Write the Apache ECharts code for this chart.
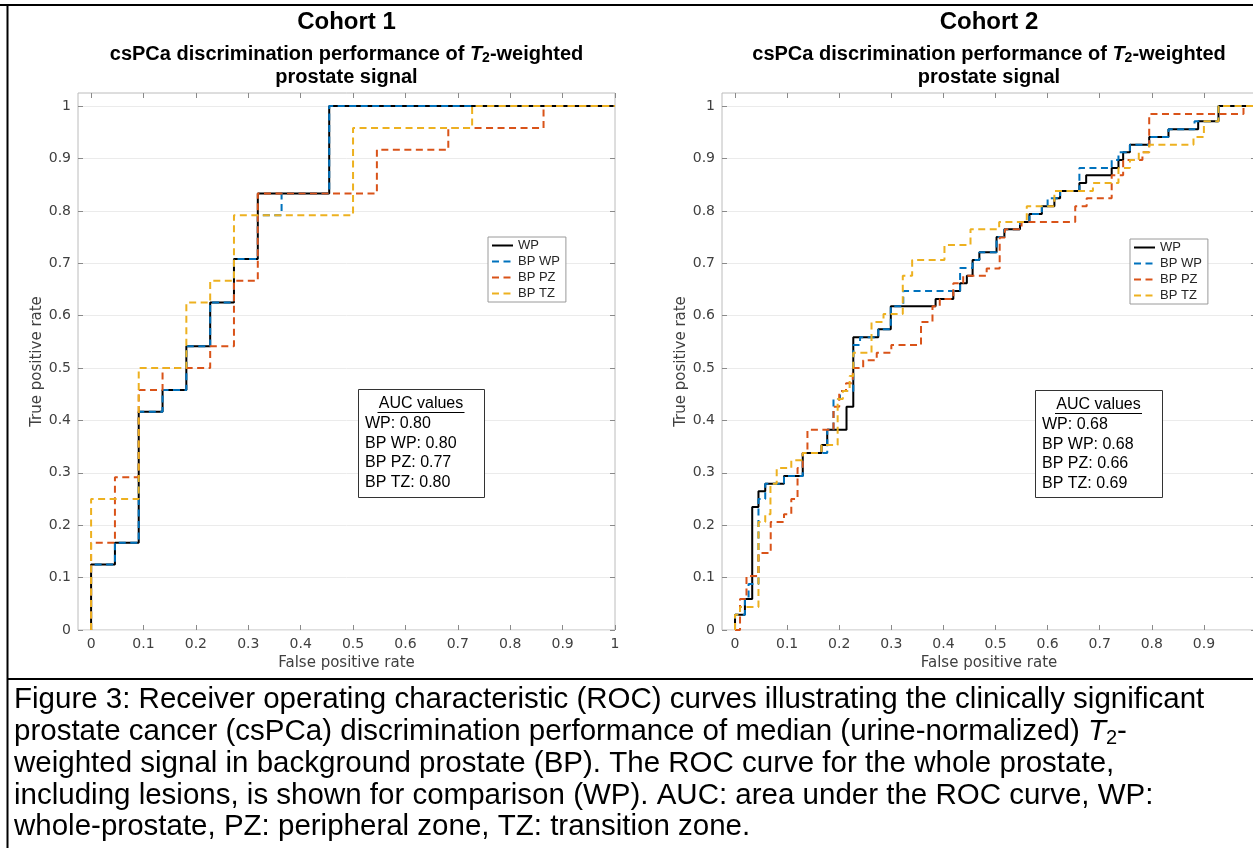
<!DOCTYPE html>
<html><head><meta charset="utf-8">
<script src="https://cdn.jsdelivr.net/npm/echarts@6/dist/echarts.min.js"></script>
<style>html,body{margin:0;padding:0;background:#fff}#c{width:1253px;height:848px}</style>
</head><body><div id="c"></div><script>
// ---------- data ----------
const seriesNames = ['WP', 'BP WP', 'BP PZ', 'BP TZ'];
const seriesColors = ['#000000', '#0072BD', '#D95319', '#EDB120'];
const xTicks = [0, 0.1, 0.2, 0.3, 0.4, 0.5, 0.6, 0.7, 0.8, 0.9, 1];
const xTicks2Labels = [0, 0.1, 0.2, 0.3, 0.4, 0.5, 0.6, 0.7, 0.8, 0.9];
const yTicks = [0, 0.1, 0.2, 0.3, 0.4, 0.5, 0.6, 0.7, 0.8, 0.9, 1];
const cohortTitles = ['Cohort 1', 'Cohort 2'];
const xAxisTitle = 'False positive rate';
const yAxisTitle = 'True positive rate';
const c1Auc = [0.80, 0.80, 0.77, 0.80];
const c2Auc = [0.68, 0.68, 0.66, 0.69];

// Cohort 1 ROC vertices [FPR, TPR]
const c1WP = [[0,0],[0,0.125],[0.0455,0.125],[0.0455,0.1667],[0.0909,0.1667],[0.0909,0.4167],[0.1364,0.4167],[0.1364,0.4583],[0.1818,0.4583],[0.1818,0.5417],[0.2273,0.5417],[0.2273,0.625],[0.2727,0.625],[0.2727,0.7083],[0.3182,0.7083],[0.3182,0.8333],[0.4545,0.8333],[0.4545,1],[1,1]];
const c1BPWP = [[0,0],[0,0.125],[0.0455,0.125],[0.0455,0.1667],[0.0909,0.1667],[0.0909,0.4167],[0.1364,0.4167],[0.1364,0.4583],[0.1818,0.4583],[0.1818,0.5417],[0.2273,0.5417],[0.2273,0.625],[0.2727,0.625],[0.2727,0.7083],[0.3182,0.7083],[0.3182,0.7917],[0.3636,0.7917],[0.3636,0.8333],[0.4545,0.8333],[0.4545,1],[1,1]];
const c1PZ = [[0,0],[0,0.1667],[0.0455,0.1667],[0.0455,0.2917],[0.0909,0.2917],[0.0909,0.4583],[0.1364,0.4583],[0.1364,0.5],[0.2273,0.5],[0.2273,0.5417],[0.2727,0.5417],[0.2727,0.6667],[0.3182,0.6667],[0.3182,0.8333],[0.5455,0.8333],[0.5455,0.9167],[0.6818,0.9167],[0.6818,0.9583],[0.8636,0.9583],[0.8636,1],[1,1]];
const c1TZ = [[0,0],[0,0.25],[0.0909,0.25],[0.0909,0.5],[0.1818,0.5],[0.1818,0.625],[0.2273,0.625],[0.2273,0.6667],[0.2727,0.6667],[0.2727,0.7917],[0.5,0.7917],[0.5,0.9583],[0.7273,0.9583],[0.7273,1],[1,1]];

// Cohort 2 ROC vertices [FPR, TPR]
const c2WP = [[0,0],[0,0.029],[0.019,0.029],[0.019,0.059],[0.033,0.059],[0.033,0.235],[0.045,0.235],[0.045,0.265],[0.058,0.265],[0.058,0.279],[0.094,0.279],[0.094,0.294],[0.130,0.294],[0.130,0.338],[0.166,0.338],[0.166,0.353],[0.177,0.353],[0.177,0.382],[0.214,0.382],[0.214,0.426],[0.227,0.426],[0.227,0.559],[0.275,0.559],[0.275,0.574],[0.299,0.574],[0.299,0.618],[0.385,0.618],[0.385,0.632],[0.419,0.632],[0.419,0.647],[0.432,0.647],[0.432,0.662],[0.445,0.662],[0.445,0.676],[0.456,0.676],[0.456,0.706],[0.469,0.706],[0.469,0.721],[0.502,0.721],[0.502,0.75],[0.517,0.75],[0.517,0.765],[0.547,0.765],[0.547,0.779],[0.565,0.779],[0.565,0.794],[0.589,0.794],[0.589,0.809],[0.613,0.809],[0.613,0.824],[0.624,0.824],[0.624,0.838],[0.661,0.838],[0.661,0.853],[0.674,0.853],[0.674,0.868],[0.723,0.868],[0.723,0.882],[0.736,0.882],[0.736,0.897],[0.745,0.897],[0.745,0.912],[0.758,0.912],[0.758,0.926],[0.795,0.926],[0.795,0.941],[0.832,0.941],[0.832,0.956],[0.889,0.956],[0.889,0.971],[0.928,0.971],[0.928,1],[1,1]];
const c2BPWP = [[0,0],[0,0.029],[0.019,0.029],[0.019,0.059],[0.026,0.059],[0.026,0.088],[0.045,0.088],[0.045,0.25],[0.058,0.25],[0.058,0.279],[0.094,0.279],[0.094,0.294],[0.130,0.294],[0.130,0.338],[0.177,0.338],[0.177,0.382],[0.189,0.382],[0.189,0.441],[0.2015,0.441],[0.2015,0.456],[0.227,0.456],[0.227,0.544],[0.24,0.544],[0.24,0.559],[0.275,0.559],[0.275,0.574],[0.299,0.574],[0.299,0.618],[0.323,0.618],[0.323,0.647],[0.432,0.647],[0.432,0.691],[0.456,0.691],[0.456,0.706],[0.469,0.706],[0.469,0.721],[0.502,0.721],[0.502,0.75],[0.517,0.75],[0.517,0.765],[0.547,0.765],[0.547,0.779],[0.565,0.779],[0.565,0.794],[0.589,0.794],[0.589,0.809],[0.6,0.809],[0.6,0.824],[0.624,0.824],[0.624,0.838],[0.661,0.838],[0.661,0.882],[0.723,0.882],[0.723,0.897],[0.736,0.897],[0.736,0.912],[0.758,0.912],[0.758,0.926],[0.795,0.926],[0.795,0.941],[0.832,0.941],[0.832,0.956],[0.882,0.956],[0.882,0.971],[0.928,0.971],[0.928,1],[1,1]];
const c2PZ = [[0,0],[0.0096,0],[0.0096,0.059],[0.022,0.059],[0.022,0.103],[0.045,0.103],[0.045,0.147],[0.0685,0.147],[0.0685,0.206],[0.094,0.206],[0.094,0.221],[0.108,0.221],[0.108,0.25],[0.12,0.25],[0.12,0.309],[0.13,0.309],[0.13,0.338],[0.139,0.338],[0.139,0.382],[0.189,0.382],[0.189,0.426],[0.2,0.426],[0.2,0.456],[0.213,0.456],[0.213,0.471],[0.226,0.471],[0.226,0.5],[0.246,0.5],[0.246,0.515],[0.272,0.515],[0.272,0.529],[0.3,0.529],[0.3,0.544],[0.357,0.544],[0.357,0.588],[0.379,0.588],[0.379,0.618],[0.393,0.618],[0.393,0.632],[0.419,0.632],[0.419,0.662],[0.438,0.662],[0.438,0.676],[0.483,0.676],[0.483,0.69],[0.508,0.69],[0.508,0.749],[0.518,0.749],[0.518,0.765],[0.55,0.765],[0.55,0.779],[0.653,0.779],[0.653,0.809],[0.675,0.809],[0.675,0.824],[0.723,0.824],[0.723,0.868],[0.745,0.868],[0.745,0.897],[0.782,0.897],[0.782,0.912],[0.795,0.912],[0.795,0.985],[0.976,0.985],[0.976,1],[1,1]];
const c2TZ = [[0,0],[0,0.029],[0.0096,0.029],[0.0096,0.044],[0.045,0.044],[0.045,0.206],[0.058,0.206],[0.058,0.221],[0.068,0.221],[0.068,0.279],[0.08,0.279],[0.08,0.309],[0.108,0.309],[0.108,0.324],[0.13,0.324],[0.13,0.338],[0.166,0.338],[0.166,0.353],[0.197,0.353],[0.197,0.441],[0.207,0.441],[0.207,0.456],[0.22,0.456],[0.22,0.485],[0.227,0.485],[0.227,0.529],[0.262,0.529],[0.262,0.588],[0.285,0.588],[0.285,0.603],[0.322,0.603],[0.322,0.676],[0.34,0.676],[0.34,0.706],[0.402,0.706],[0.402,0.735],[0.452,0.735],[0.452,0.765],[0.507,0.765],[0.507,0.779],[0.56,0.779],[0.56,0.809],[0.613,0.809],[0.613,0.838],[0.687,0.838],[0.687,0.853],[0.736,0.853],[0.736,0.882],[0.758,0.882],[0.758,0.897],[0.775,0.897],[0.775,0.912],[0.795,0.912],[0.795,0.926],[0.88,0.926],[0.88,0.941],[0.9,0.941],[0.9,0.971],[0.928,0.971],[0.928,1],[1,1]];

const captionLines = [
  'Figure 3: Receiver operating characteristic (ROC) curves illustrating the clinically significant',
  'prostate cancer (csPCa) discrimination performance of median (urine-normalized) {it|T}{sub|2}-',
  'weighted signal in background prostate (BP). The ROC curve for the whole prostate,',
  'including lesions, is shown for comparison (WP). AUC: area under the ROC curve, WP:',
  'whole-prostate, PZ: peripheral zone, TZ: transition zone.'
];

// ---------- chart ----------
const chart = echarts.init(document.getElementById('c'), null, {renderer: 'canvas'});
const TICK_FONT = 'DejaVu Sans';
const ARIAL = 'Liberation Sans';
const grids = [
  {left: 78, right: 638, top: 93, bottom: 218},
  {left: 722, right: -3, top: 93, bottom: 218}
];
const fmt = v => String(Math.round(v * 10) / 10);
const tickStyle = {show: true, inside: true, length: 5, lineStyle: {color: '#8a8a8a', width: 1}};

const xAxes = [], yAxes = [];
grids.forEach((g, i) => {
  const labels = i === 0 ? xTicks : xTicks2Labels;
  xAxes.push({
    type: 'value', gridIndex: i, position: 'bottom', min: -0.025, max: 1,
    name: xAxisTitle, nameLocation: 'middle', nameGap: 26,
    nameTextStyle: {color: '#404040', fontFamily: TICK_FONT, fontSize: 15},
    axisLine: {show: false, onZero: false},
    axisTick: Object.assign({customValues: xTicks}, tickStyle),
    axisLabel: {customValues: labels, formatter: fmt, color: '#404040', fontFamily: TICK_FONT, fontSize: 14, margin: 7},
    splitLine: {show: false}
  });
  xAxes.push({
    type: 'value', gridIndex: i, position: 'top', min: -0.025, max: 1,
    axisLine: {show: false, onZero: false},
    axisTick: Object.assign({customValues: xTicks}, tickStyle),
    axisLabel: {show: false},
    splitLine: {show: false}
  });
  yAxes.push({
    type: 'value', gridIndex: i, position: 'left', min: 0, max: 1.025,
    name: yAxisTitle, nameLocation: 'middle', nameGap: 32, nameRotate: 90,
    nameTextStyle: {color: '#404040', fontFamily: TICK_FONT, fontSize: 15},
    axisLine: {show: false, onZero: false},
    axisTick: Object.assign({customValues: yTicks}, tickStyle),
    axisLabel: {customValues: yTicks, formatter: fmt, color: '#404040', fontFamily: TICK_FONT, fontSize: 14, margin: 7},
    splitLine: {show: true, lineStyle: {color: '#ebebeb', width: 1}}
  });
  yAxes.push({
    type: 'value', gridIndex: i, position: 'right', min: 0, max: 1.025,
    axisLine: {show: false, onZero: false},
    axisTick: Object.assign({customValues: yTicks}, tickStyle),
    axisLabel: {show: false},
    splitLine: {show: false}
  });
});

const cohortData = [[c1WP, c1BPWP, c1PZ, c1TZ], [c2WP, c2BPWP, c2PZ, c2TZ]];
const series = [];
cohortData.forEach((sets, ci) => {
  sets.forEach((d, si) => {
    series.push({
      type: 'line', name: seriesNames[si], data: d,
      xAxisIndex: ci * 2, yAxisIndex: ci * 2,
      symbol: 'none', animation: false, silent: true,
      lineStyle: {color: seriesColors[si], width: 2, type: si === 0 ? 'solid' : [7, 4.5]},
      itemStyle: {color: seriesColors[si]},
      z: 3 + si
    });
  });
});

const legendCommon = {
  orient: 'vertical', data: seriesNames, itemGap: 3, itemWidth: 21, itemHeight: 14,
  padding: [2, 6, 2, 3], borderColor: '#9a9a9a', borderWidth: 1, backgroundColor: '#ffffff',
  itemStyle: {opacity: 0},
  textStyle: {fontFamily: ARIAL, fontSize: 13, color: '#262626'}, selectedMode: false
};

// graphics
const graphic = [];
graphic.push({type: 'line', shape: {x1: 7.5, y1: 4, x2: 7.5, y2: 848}, style: {stroke: '#000', lineWidth: 2}, z: 100});
graphic.push({type: 'line', shape: {x1: 0, y1: 5, x2: 1253, y2: 5}, style: {stroke: '#000', lineWidth: 2}, z: 100});
graphic.push({type: 'line', shape: {x1: 7, y1: 679, x2: 1253, y2: 679}, style: {stroke: '#000', lineWidth: 2}, z: 100});

const titleCenters = [346.5, 989];
const subRich = {
  it: {font: 'italic bold 20px "Liberation Sans"', fill: '#000'},
  sub: {font: 'bold 14px "Liberation Sans"', fill: '#000', padding: [9, 0, 0, 0], verticalAlign: 'bottom'}
};
titleCenters.forEach((cx, i) => {
  graphic.push({type: 'text', x: cx, y: 22, z: 100, style: {text: cohortTitles[i], font: 'bold 24px "Liberation Sans"', fill: '#000', align: 'center', verticalAlign: 'middle'}});
  graphic.push({type: 'text', x: cx, y: 54, z: 100, style: {text: 'csPCa discrimination performance of {it|T}{sub|2}-weighted', font: 'bold 20px "Liberation Sans"', fill: '#000', align: 'center', verticalAlign: 'middle', rich: subRich}});
  graphic.push({type: 'text', x: cx, y: 77, z: 100, style: {text: 'prostate signal', font: 'bold 20px "Liberation Sans"', fill: '#000', align: 'center', verticalAlign: 'middle'}});
});

// AUC boxes
const aucBoxes = [{x: 358, y: 389, w: 126, h: 108, auc: c1Auc}, {x: 1035, y: 390, w: 127, h: 107, auc: c2Auc}];
aucBoxes.forEach(b => {
  graphic.push({type: 'rect', z: 100, shape: {x: b.x + 0.5, y: b.y + 0.5, width: b.w, height: b.h}, style: {fill: '#fff', stroke: '#333', lineWidth: 1}});
  const cx = b.x + b.w / 2;
  graphic.push({type: 'text', z: 101, x: cx, y: b.y + 15, style: {text: 'AUC values', font: '16px "Liberation Sans"', fill: '#000', align: 'center', verticalAlign: 'middle'}});
  graphic.push({type: 'line', z: 101, shape: {x1: cx - 43.5, y1: b.y + 23.5, x2: cx + 43.5, y2: b.y + 23.5}, style: {stroke: '#000', lineWidth: 1}});
  b.auc.forEach((v, k) => {
    graphic.push({type: 'text', z: 101, x: b.x + 7, y: b.y + 34.5 + k * 19.7, style: {text: seriesNames[k] + ': ' + v.toFixed(2), font: '16px "Liberation Sans"', fill: '#000', align: 'left', verticalAlign: 'middle'}});
  });
});

// caption
const capRich = {
  it: {font: 'italic 29.5px "Liberation Sans"', fill: '#000'},
  sub: {font: '20px "Liberation Sans"', fill: '#000', padding: [14, 0, 0, 0], verticalAlign: 'bottom'}
};
captionLines.forEach((t, i) => {
  graphic.push({type: 'text', z: 100, x: 14, y: 700 + i * 31.8, style: {text: t, font: '29.5px "Liberation Sans"', fill: '#000', align: 'left', verticalAlign: 'middle', rich: capRich}});
});

chart.setOption({
  backgroundColor: '#ffffff',
  animation: false,
  grid: grids.map(g => Object.assign({show: true, borderColor: '#bcbcbc', borderWidth: 1, backgroundColor: '#fff', outerBoundsMode: 'none', containLabel: false}, g)),
  xAxis: xAxes,
  yAxis: yAxes,
  legend: [
    Object.assign({left: 488, top: 237}, legendCommon),
    Object.assign({left: 1130, top: 239}, legendCommon)
  ],
  series: series,
  graphic: graphic
});
</script></body></html>
